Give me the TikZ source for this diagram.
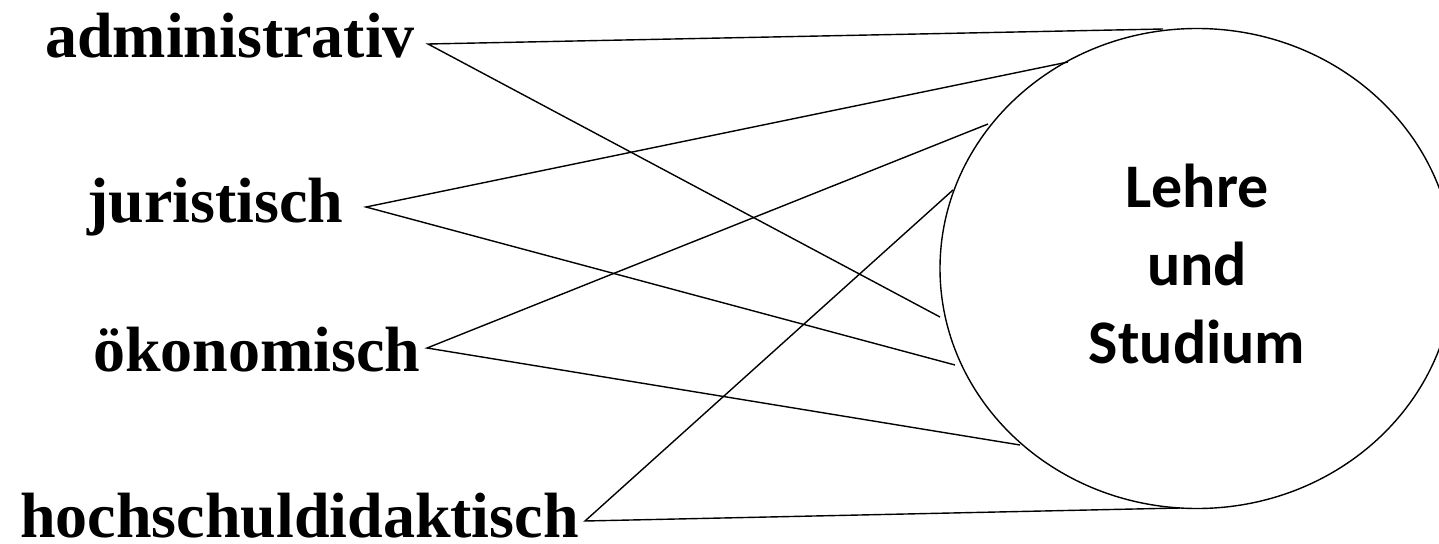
\documentclass[tikz,border=0pt]{standalone}
\usepackage{fontspec}
\usetikzlibrary{shapes.geometric}
\setmainfont{Liberation Serif}
\newfontfamily\calibrifont{Carlito}
\begin{document}
\begin{tikzpicture}[x=1pt,y=-1pt,
  lbl/.style={inner sep=0pt, anchor=base west, font=\fontsize{64}{77}\selectfont\bfseries},
  ctr/.style={inner sep=0pt, align=center, font=\calibrifont\fontsize{62}{78}\selectfont\bfseries},
  conn/.style={line width=1.4pt, line join=miter}]
\clip (0,0) rectangle (1439,543);
% ellipse
\node[draw, line width=1.4pt, ellipse, minimum width=514pt, minimum height=480pt, inner sep=0pt] (E) at (1197,268.5) {};
\node[ctr] (T) at (1197,264) {Lehre\\und\\Studium};
% labels
\node[lbl] (adm) at (45,57) {administrativ};
\node[lbl] (jur) at (87,222) {juristisch};
\node[lbl] (oek) at (93,371) {ökonomisch};
\node[lbl] (hoch) at (20,537) {hochschuldidaktisch};
% vertices
\coordinate (va) at (428,44);
\coordinate (vj) at (366,207);
\coordinate (vo) at (427,348);
\coordinate (vh) at (585,521);
% ends on ellipse
\coordinate (a1) at (1163,29);
\coordinate (a2) at (940,317);
\coordinate (j1) at (1068,62);
\coordinate (j2) at (955,365);
\coordinate (o1) at (988,124);
\coordinate (o2) at (1020,445);
\coordinate (h1) at (953,190);
\coordinate (h2) at (1180,508);
\draw[conn] (a1) -- (va) -- (a2);
\draw[conn] (j1) -- (vj) -- (j2);
\draw[conn] (o1) -- (vo) -- (o2);
\draw[conn] (h1) -- (vh) -- (h2);
\end{tikzpicture}
\end{document}
